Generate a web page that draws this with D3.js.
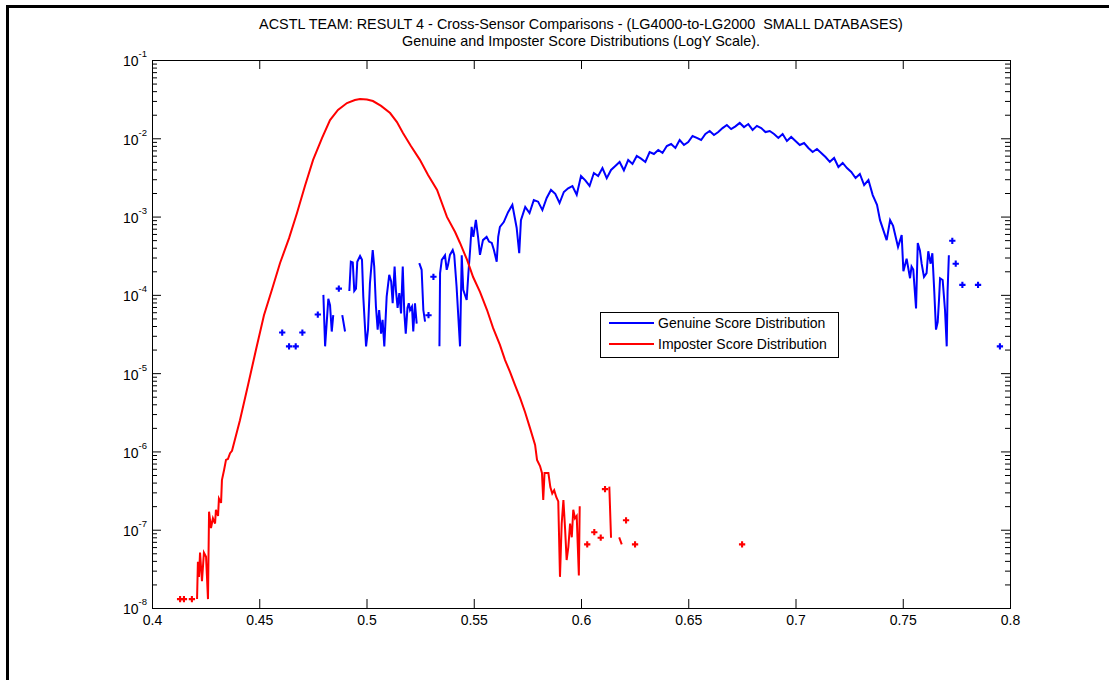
<!DOCTYPE html>
<html><head><meta charset="utf-8">
<script src="https://cdn.jsdelivr.net/npm/d3@7"></script>
<style>
body{margin:0;background:#fff}
svg{display:block}
text{font-family:Arial,"Liberation Sans",Helvetica,sans-serif;fill:#000;white-space:pre}
</style>
</head><body>
<svg id="chart" width="1109" height="680"></svg>
<script>
const titleLines = [
  "ACSTL TEAM: RESULT 4 - Cross-Sensor Comparisons - (LG4000-to-LG2000  SMALL DATABASES)",
  "Genuine and Imposter Score Distributions (LogY Scale)."
];
const xTicks = [0.4,0.45,0.5,0.55,0.6,0.65,0.7,0.75,0.8];
const xTickLabels = ["0.4","0.45","0.5","0.55","0.6","0.65","0.7","0.75","0.8"];
const yTickValues = [1e-1,1e-2,1e-3,1e-4,1e-5,1e-6,1e-7,1e-8];
const yTickExponents = ["-1","-2","-3","-4","-5","-6","-7","-8"];
const legendLabels = ["Genuine Score Distribution","Imposter Score Distribution"];
const seriesColors = ["#0000ff","#ff0000"];

// [score, relative frequency]; 0 = empty bin (gap in the line)
const genuinePoints = [
[0.4607,3.3e-5],[0.4623,0],[0.4639,2.2e-5],[0.4655,0],[0.4670,2.2e-5],[0.4686,0],[0.4701,3.3e-5],[0.4737,0],
[0.4773,5.6e-5],[0.4786,0],[0.4799,1.0e-4],[0.4807,2.2e-5],[0.4822,8.9e-5],[0.4830,7.4e-5],[0.4838,3.4e-5],[0.4845,5.5e-5],
[0.4858,0],[0.4871,1.2e-4],[0.4879,0],[0.4887,5.5e-5],[0.4900,3.4e-5],[0.4910,0],[0.4920,1.12e-4],[0.4927,2.65e-4],
[0.4936,2.6e-4],[0.4943,1.12e-4],[0.4951,1.2e-4],[0.4957,2.65e-4],[0.4970,3.14e-4],[0.4979,2.8e-4],[0.4985,9.5e-5],
[0.4998,2.2e-5],[0.5007,3.6e-5],[0.5016,1.4e-4],[0.5029,3.74e-4],[0.5036,2.3e-4],[0.5044,7.1e-5],[0.5052,3.6e-5],
[0.5059,6.4e-5],[0.5068,3.2e-5],[0.5075,4.8e-5],[0.5083,2.2e-5],[0.5094,9.5e-5],[0.5106,1.8e-4],[0.5115,1.48e-4],
[0.5122,7.8e-5],[0.5131,2.3e-4],[0.5137,1.16e-4],[0.5145,6.8e-5],[0.5153,1.05e-4],[0.5161,5.8e-5],[0.5169,2.3e-4],
[0.5176,6.1e-5],[0.5183,3.2e-5],[0.5191,6.8e-5],[0.5197,7.8e-5],[0.5203,6.4e-5],[0.5212,7.1e-5],[0.5218,3.4e-5],
[0.5226,7.8e-5],[0.5234,4.3e-5],[0.5240,0],[0.5246,2.54e-4],[0.5257,2.09e-4],[0.5265,6.4e-5],[0.5273,4.55e-5],
[0.5281,0],[0.5289,5.5e-5],[0.5300,0],[0.5312,1.7e-4],[0.5326,0],[0.5340,2.2e-5],[0.5343,1.89e-4],[0.5351,2.79e-4],
[0.5366,3.2e-4],[0.5374,2.09e-4],[0.5380,2.4e-4],[0.5389,3.24e-4],[0.5402,3.74e-4],[0.5409,3.24e-4],[0.5420,1.27e-4],
[0.5436,2.2e-5],[0.5444,3.2e-4],[0.5451,1.16e-4],[0.5467,8.6e-5],[0.5475,1.89e-4],[0.5483,3.74e-4],[0.5490,7.4e-4],
[0.5498,5.5e-4],[0.5510,9.1e-4],[0.5520,5.5e-4],[0.5529,3.24e-4],[0.5543,5.0e-4],[0.5560,5.5e-4],[0.5571,4.8e-4],
[0.5584,4.6e-4],[0.5594,3.74e-4],[0.5607,2.65e-4],[0.5614,5.5e-4],[0.5622,7.4e-4],
[0.564,8.5e-4],[0.566,1.14e-3],[0.568,1.41e-3],[0.570,7.2e-4],[0.5712,3.4e-4],[0.572,9.0e-4],[0.574,1.33e-3],
[0.576,1.11e-3],[0.578,1.63e-3],[0.580,1.55e-3],[0.582,1.21e-3],[0.584,1.73e-3],[0.586,2.19e-3],[0.588,1.95e-3],
[0.590,1.49e-3],[0.592,2.06e-3],[0.594,2.3e-3],[0.596,2.45e-3],[0.598,1.9e-3],[0.600,3.30e-3],[0.602,2.9e-3],
[0.604,2.46e-3],[0.606,3.6e-3],[0.608,3.3e-3],[0.610,4.17e-3],[0.612,3.1e-3],[0.614,3.94e-3],[0.616,4.43e-3],
[0.618,4.98e-3],[0.620,3.9e-3],[0.622,5.28e-3],[0.624,4.70e-3],[0.626,5.94e-3],[0.628,5.5e-3],[0.630,4.98e-3],
[0.632,6.68e-3],[0.634,6.3e-3],[0.636,7.09e-3],[0.638,6.5e-3],[0.640,7.97e-3],[0.642,8.46e-3],[0.644,7.52e-3],
[0.646,9.51e-3],[0.648,8.21e-3],[0.650,8.97e-3],[0.652,1.07e-2],[0.654,1.01e-2],[0.656,9.51e-3],[0.658,1.135e-2],
[0.660,1.24e-2],[0.662,1.10e-2],[0.664,1.20e-2],[0.666,1.35e-2],[0.668,1.48e-2],[0.670,1.31e-2],[0.672,1.42e-2],
[0.674,1.57e-2],[0.676,1.39e-2],[0.678,1.52e-2],[0.680,1.28e-2],[0.682,1.44e-2],[0.684,1.35e-2],[0.686,1.20e-2],
[0.688,1.24e-2],[0.690,1.135e-2],[0.692,1.01e-2],[0.694,1.135e-2],[0.696,9.24e-3],[0.698,1.04e-2],[0.700,9.24e-3],
[0.702,8.21e-3],[0.704,8.7e-3],[0.706,7.52e-3],[0.708,6.68e-3],[0.710,7.30e-3],[0.712,6.49e-3],[0.714,5.77e-3],
[0.716,5.0e-3],[0.718,5.60e-3],[0.720,4.30e-3],[0.722,4.84e-3],[0.724,4.17e-3],[0.726,3.71e-3],[0.728,3.11e-3],
[0.730,3.50e-3],[0.732,2.53e-3],[0.734,2.93e-3],[0.736,1.88e-3],[0.738,1.41e-3],
[0.7394,9.0e-4],[0.7425,5.0e-4],[0.7441,9.0e-4],[0.7455,7.6e-4],[0.7478,4.1e-4],[0.7495,5.8e-4],[0.7503,2.0e-4],
[0.7518,2.9e-4],[0.7534,1.63e-4],[0.7541,2.3e-4],[0.7549,2.1e-4],[0.7562,6.7e-5],[0.7570,4.6e-4],[0.7580,3.7e-4],
[0.7588,2.5e-4],[0.7599,1.7e-4],[0.7611,1.9e-4],[0.7619,3.6e-4],[0.7630,2.5e-4],[0.7638,3.4e-4],[0.7647,1.1e-4],
[0.7655,3.6e-5],[0.7663,4.5e-5],[0.7669,8.6e-5],[0.7674,1.63e-4],[0.7686,1.55e-4],[0.7697,6.4e-5],[0.7705,2.2e-5],
[0.7709,1.1e-4],[0.7715,3.2e-4],[0.7723,0],[0.7731,4.9e-4],[0.7739,0],[0.7747,2.5e-4],[0.7760,0],[0.7778,1.34e-4],
[0.7810,0],[0.7851,1.34e-4],[0.7900,0],[0.7953,2.2e-5]
];

const imposterPoints = [
[0.4131,1.3e-8],[0.4140,0],[0.4149,1.3e-8],[0.4168,0],[0.4186,1.3e-8],[0.4200,0],[0.4210,1.3e-8],[0.4214,3.9e-8],
[0.4219,2.5e-8],[0.4224,5.1e-8],[0.4233,2.2e-8],[0.4242,5.1e-8],[0.4252,4.5e-8],[0.4256,2.6e-8],[0.4261,1.3e-8],
[0.4266,1.7e-7],[0.4275,1.05e-7],[0.4284,1.4e-7],[0.4294,1.2e-7],[0.4298,1.8e-7],[0.4308,1.5e-7],[0.4312,2.5e-7],
[0.4322,2.2e-7],[0.4326,4.3e-7],[0.4336,5.8e-7],[0.4345,7.8e-7],[0.4354,8.0e-7],[0.4364,9.5e-7],[0.4373,1.02e-6],
[0.4410,2.5e-6],[0.4448,7.1e-6],[0.4485,2.0e-5],[0.4522,5.5e-5],[0.4559,1.16e-4],[0.4597,2.55e-4],[0.4639,5.3e-4],
[0.4676,1.11e-3],[0.4713,2.46e-3],[0.4751,5.3e-3],[0.4793,1.01e-2],[0.4830,1.71e-2],[0.4867,2.30e-2],[0.4909,2.82e-2],
[0.4946,3.08e-2],[0.4970,3.18e-2],[0.5002,3.13e-2],[0.5030,2.99e-2],[0.5068,2.59e-2],[0.5110,2.10e-2],[0.5142,1.61e-2],
[0.5170,1.17e-2],[0.5207,7.97e-3],[0.5249,5.3e-3],[0.5287,3.40e-3],[0.5329,2.19e-3],[0.5375,9.9e-4],[0.5413,6.35e-4],
[0.5436,4.6e-4],[0.5469,2.79e-4],[0.5497,1.69e-4],[0.5529,1.09e-4],[0.5562,6.4e-5],[0.5590,3.78e-5],[0.5622,2.29e-5],
[0.5646,1.47e-5],[0.5669,1.04e-5],[0.5692,7.1e-6],[0.5716,4.82e-6],[0.5739,3.19e-6],[0.5762,2.0e-6],[0.5786,1.21e-6],
[0.5795,7.8e-7],[0.5809,6.5e-7],[0.5818,5.3e-7],[0.5824,2.4e-7],[0.5830,5.3e-7],[0.5848,5.3e-7],[0.5857,3.5e-7],
[0.5866,2.9e-7],[0.5875,3.2e-7],[0.5885,2.6e-7],[0.5894,2.3e-7],[0.5902,2.5e-8],[0.5910,1.2e-7],[0.5918,2.4e-7],
[0.5926,1.0e-7],[0.5933,4.1e-8],[0.5941,6e-8],[0.5949,1.2e-7],[0.5957,8e-8],[0.5964,1.8e-7],[0.5972,1.4e-7],
[0.5980,1.5e-7],[0.5990,2.6e-8],[0.5994,2.0e-7],[0.6003,0],[0.6029,6.5e-8],[0.6042,0],[0.6062,9.3e-8],[0.6077,0],
[0.6092,7.9e-8],[0.6102,0],[0.6112,3.3e-7],[0.6122,0],[0.6132,3.55e-7],[0.6140,7.9e-8],[0.6150,0],[0.6165,0],
[0.6178,8.0e-8],[0.6190,6.5e-8],[0.6200,0],[0.6210,1.32e-7],[0.6222,0],[0.6252,6.5e-8],[0.6265,0],[0.6751,6.5e-8]
];

const series = [genuinePoints, imposterPoints];

const svg = d3.select("#chart");
const W = 1109, H = 680;
const plot = {left:152, right:1010, top:60, bottom:608};
const FS = 14;

// figure frame (top and left edges)
svg.append("rect").attr("x",6).attr("y",5).attr("width",W-6).attr("height",3).attr("fill","#000");
svg.append("rect").attr("x",6).attr("y",5).attr("width",3).attr("height",H-5).attr("fill","#000");

const x = d3.scaleLinear().domain([0.4,0.8]).range([plot.left, plot.right]);
const y = d3.scaleLog().domain([1e-8,1e-1]).range([plot.bottom, plot.top]);

// title
svg.selectAll("text.title").data(titleLines).join("text")
  .attr("class","title")
  .attr("x",(plot.left+plot.right)/2)
  .attr("y",(d,i)=>29+i*16.5)
  .attr("text-anchor","middle")
  .attr("font-size",14.4)
  .text(d=>d);

const axisStyle = g => {
  g.select(".domain").remove();
  g.selectAll(".tick line").attr("stroke","#000").attr("stroke-width",1);
};

// bottom axis
svg.append("g").attr("transform",`translate(0,${plot.bottom})`)
  .call(d3.axisBottom(x).tickValues(xTicks).tickSizeInner(-9).tickSizeOuter(0).tickPadding(7)
        .tickFormat((d,i)=>xTickLabels[i]))
  .call(axisStyle)
  .call(g=>g.selectAll(".tick text").attr("font-size",FS).attr("font-family",null).attr("fill","#000"));
// top axis
svg.append("g").attr("transform",`translate(0,${plot.top})`)
  .call(d3.axisTop(x).tickValues(xTicks).tickSizeInner(-9).tickSizeOuter(0).tickFormat(""))
  .call(axisStyle);

const minorTicks = y.ticks().filter(v => !yTickValues.some(m => Math.abs(m-v)/m < 1e-6));

// left axis major + labels
svg.append("g").attr("transform",`translate(${plot.left},0)`)
  .call(d3.axisLeft(y).tickValues(yTickValues).tickSizeInner(-9).tickSizeOuter(0).tickPadding(5).tickFormat(""))
  .call(axisStyle)
  .call(g=>{
    g.selectAll(".tick text").each(function(d,i){
      const t = d3.select(this).attr("font-size",FS).attr("font-family",null).attr("fill","#000")
        .attr("dy","0.42em").attr("x",-5);
      t.append("tspan").text("10");
      t.append("tspan").attr("font-size",9.5).attr("dy","-0.95em").text(yTickExponents[i]);
    });
  });
// left minor
svg.append("g").attr("transform",`translate(${plot.left},0)`)
  .call(d3.axisLeft(y).tickValues(minorTicks).tickSizeInner(-5).tickSizeOuter(0).tickFormat(""))
  .call(axisStyle);
// right axis major + minor
svg.append("g").attr("transform",`translate(${plot.right},0)`)
  .call(d3.axisRight(y).tickValues(yTickValues).tickSizeInner(-9).tickSizeOuter(0).tickFormat(""))
  .call(axisStyle);
svg.append("g").attr("transform",`translate(${plot.right},0)`)
  .call(d3.axisRight(y).tickValues(minorTicks).tickSizeInner(-5).tickSizeOuter(0).tickFormat(""))
  .call(axisStyle);

// plot box
svg.append("rect").attr("x",plot.left+0.5).attr("y",plot.top+0.5)
  .attr("width",plot.right-plot.left).attr("height",plot.bottom-plot.top)
  .attr("fill","none").attr("stroke","#000").attr("stroke-width",1);

// series
const line = d3.line().defined(d=>d[1]>0).x(d=>x(d[0])).y(d=>y(d[1]));
svg.append("clipPath").attr("id","clip").append("rect")
  .attr("x",plot.left).attr("y",plot.top-2).attr("width",plot.right-plot.left+2).attr("height",plot.bottom-plot.top+4);
const plotG = svg.append("g").attr("clip-path","url(#clip)");

series.forEach((pts,si)=>{
  plotG.append("path").datum(pts).attr("d",line)
    .attr("fill","none").attr("stroke",seriesColors[si]).attr("stroke-width",2)
    .attr("stroke-linejoin","miter");
  const isolated = pts.filter((p,i)=> p[1]>0 &&
      (i===0 || pts[i-1][1]<=0) && (i===pts.length-1 || pts[i+1][1]<=0));
  plotG.selectAll(null).data(isolated).join("path")
    .attr("transform",d=>`translate(${x(d[0])},${y(d[1])})`)
    .attr("d",d3.symbol(d3.symbolCross,22))
    .attr("fill",seriesColors[si]);
});

// legend
const lg = svg.append("g");
lg.append("rect").attr("x",600.5).attr("y",312.5).attr("width",238).attr("height",45)
  .attr("fill","#fff").attr("stroke","#000").attr("stroke-width",1);
legendLabels.forEach((lab,i)=>{
  const ly = 323 + i*21;
  lg.append("line").attr("x1",609).attr("x2",654).attr("y1",ly).attr("y2",ly)
    .attr("stroke",seriesColors[i]).attr("stroke-width",2);
  lg.append("text").attr("x",658).attr("y",ly+5).attr("font-size",FS).text(lab);
});
</script>
</body></html>
